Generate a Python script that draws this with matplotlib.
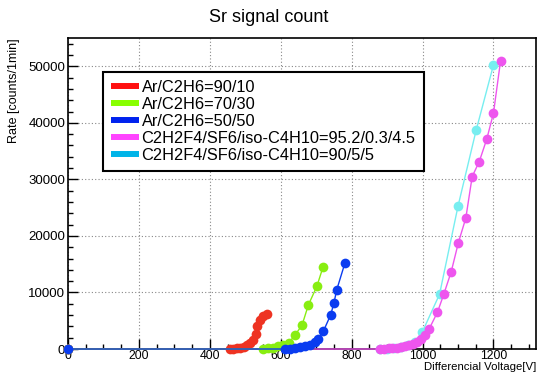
import matplotlib
matplotlib.use('Agg')
import matplotlib.pyplot as plt
from matplotlib.lines import Line2D
from matplotlib.ticker import MultipleLocator

plt.rcParams['font.family'] = ['Liberation Sans', 'DejaVu Sans']

# data
red_v = [0, 457, 466, 476, 485, 495, 504, 513, 523, 529, 534, 542, 551, 560]
red_r = [0, 0, 0, 100, 230, 400, 640, 1000, 1640, 2580, 4000, 5180, 5760, 6240]

green_v = [0, 551, 565, 579, 593, 607, 623, 640, 660, 678, 702, 719]
green_r = [0, 0, 100, 250, 450, 700, 1100, 2450, 4200, 7800, 11100, 14450]

blue_v = [0, 612, 626, 640, 654, 669, 683, 697, 706, 720, 741, 750, 758, 781]
blue_r = [0, 0, 30, 180, 350, 460, 760, 1170, 1770, 3110, 6060, 8130, 10480, 15190]

mag_v = [0, 880, 892, 904, 915, 927, 939, 951, 962, 974, 984, 996, 1007, 1019,
         1042, 1060, 1081, 1101, 1122, 1140, 1160, 1181, 1200, 1220]
mag_r = [0, 0, 50, 100, 180, 230, 350, 460, 640, 940, 1300, 1770, 2400, 3600,
         6500, 9700, 13700, 18800, 23150, 30500, 33150, 37100, 41700, 50950]

cyan_v = [880, 900, 920, 940, 960, 980, 999, 1048, 1100, 1151, 1200]
cyan_r = [0, 60, 150, 350, 700, 1300, 2950, 9700, 25250, 38650, 50230]

labels = ['Ar/C2H6=90/10', 'Ar/C2H6=70/30', 'Ar/C2H6=50/50',
          'C2H2F4/SF6/iso-C4H10=95.2/0.3/4.5', 'C2H2F4/SF6/iso-C4H10=90/5/5']
legend_colors = ['#ff1010', '#88ff00', '#0022ee', '#ff44ff', '#00b4e8']

fig = plt.figure(figsize=(5.38, 3.75), dpi=100)
ax = fig.add_axes([0.1264, 0.0693, 0.8699, 0.8294])

# draw order: cyan, magenta, red, green, blue
series = [
    (cyan_v, cyan_r, '#77eef0'),
    (mag_v, mag_r, '#ee55ee'),
    (red_v, red_r, '#ee3322'),
    (green_v, green_r, '#88ee11'),
    (blue_v, blue_r, '#0a3cf0'),
]
for v, r, c in series:
    ax.plot(v, r, '-o', color=c, lw=1.0, ms=7, mec='none', clip_on=False, zorder=3)

ax.set_xlim(0, 1320)
ax.set_ylim(0, 55000)
ax.xaxis.set_major_locator(MultipleLocator(200))
ax.xaxis.set_minor_locator(MultipleLocator(50))
ax.yaxis.set_major_locator(MultipleLocator(10000))
ax.yaxis.set_minor_locator(MultipleLocator(2000))
ax.tick_params(which='both', direction='in', top=False, right=False, labelsize=9.5)
ax.tick_params(which='major', length=7, width=1)
ax.tick_params(which='minor', length=3.6, width=1)
ax.tick_params(axis='x', pad=1, labelsize=8.8)
ax.tick_params(axis='y', pad=2)
ax.grid(True, which='major', color='#888888', linestyle=(0, (1, 2)), lw=0.8)
for s in ax.spines.values():
    s.set_linewidth(1.2)

ax.set_xlabel('Differencial Voltage[V]', fontsize=8.2, ha='right', va='top')
ax.xaxis.set_label_coords(1.0, -0.042)
ax.set_ylabel('Rate [counts/1min]', fontsize=9, loc='top', labelpad=6)

fig.text(0.5, 0.952, 'Sr signal count', ha='center', va='center', fontsize=13)

handles = [Line2D([], [], color=c, lw=4.3, solid_capstyle='butt') for c in legend_colors]
leg = ax.legend(handles, labels, loc='upper left', bbox_to_anchor=(0.0748, 0.8907),
                borderaxespad=0, fontsize=11.8, handlelength=1.7, handletextpad=0.15,
                labelspacing=0.12, borderpad=0.5, fancybox=False, framealpha=1,
                edgecolor='black')
leg.get_frame().set_linewidth(1.5)

fig.savefig('out.png', dpi=100)
